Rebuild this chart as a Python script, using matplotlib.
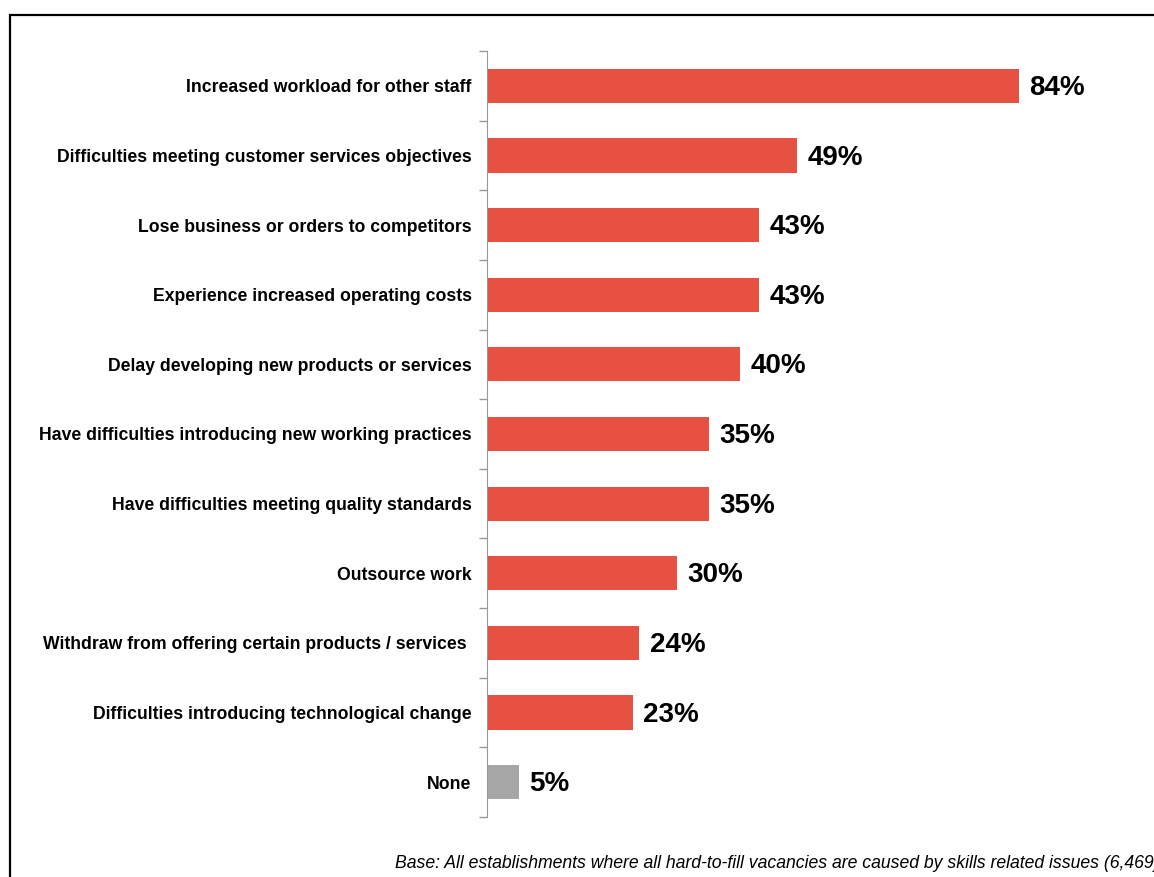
import matplotlib.pyplot as plt
from matplotlib.patches import Rectangle

categories = [
    "Increased workload for other staff",
    "Difficulties meeting customer services objectives",
    "Lose business or orders to competitors",
    "Experience increased operating costs",
    "Delay developing new products or services",
    "Have difficulties introducing new working practices",
    "Have difficulties meeting quality standards",
    "Outsource work",
    "Withdraw from offering certain products / services ",
    "Difficulties introducing technological change",
    "None",
]
values = [84, 49, 43, 43, 40, 35, 35, 30, 24, 23, 5]
colors = ["#E65141"] * 10 + ["#A6A6A6"]
footnote = "Base: All establishments where all hard-to-fill vacancies are caused by skills related issues (6,469)"

plt.rcParams['font.family'] = ['Liberation Sans', 'DejaVu Sans']

fig = plt.figure(figsize=(11.54, 8.77), dpi=100)
ax = fig.add_axes([487 / 1154, 1 - 817 / 877, 633 / 1154, 766 / 877])

ypos = list(range(len(categories)))
ax.barh(ypos, values, height=0.49, color=colors)
ax.set_ylim(len(categories) - 0.5, -0.5)
ax.set_xlim(0, 100)

for y, v in zip(ypos, values):
    ax.text(v + 1.7, y + 0.03, f"{v}%", va='center', ha='left', fontsize=20, fontweight='bold')

ax.set_yticks(ypos)
ax.set_yticklabels(categories, fontsize=12.7, fontweight='bold')
ax.tick_params(axis='y', which='major', length=0, pad=11)
ax.set_yticks([i - 0.5 for i in range(len(categories) + 1)], minor=True)
ax.tick_params(axis='y', which='minor', length=6, color='#999999', width=1)
ax.set_xticks([])
for s in ['top', 'right', 'bottom']:
    ax.spines[s].set_visible(False)
ax.spines['left'].set_color('#999999')

fig.text(395 / 1154, 1 - 863 / 877, footnote, fontsize=12.7, style='italic',
         ha='left', va='center')

fig.patches.append(Rectangle((9.5 / 1154, -0.1), 1.2, 1 - 14.5 / 877 + 0.1,
                             transform=fig.transFigure, fill=False,
                             edgecolor='black', linewidth=1.6))

fig.savefig("out.png", dpi=100)
